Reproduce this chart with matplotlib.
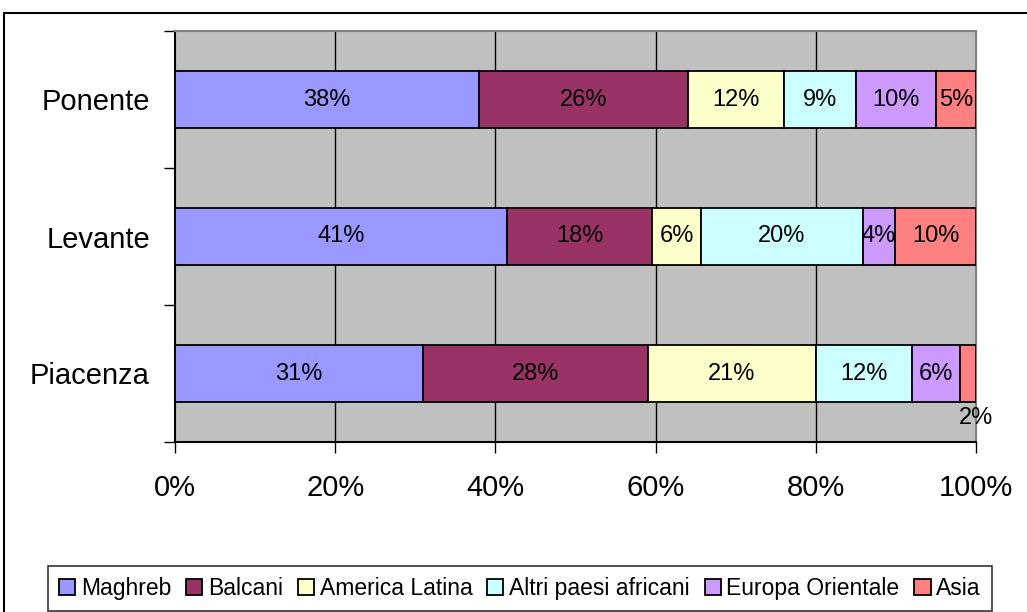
import numpy as np
import matplotlib
matplotlib.use("Agg")
import matplotlib.pyplot as plt
from matplotlib.patches import Rectangle

plt.rcParams['font.family'] = ['Liberation Sans', 'DejaVu Sans']

zone = ['Piacenza', 'Levante', 'Ponente']
gruppi = ['Maghreb', 'Balcani', 'America Latina', 'Altri paesi africani',
          'Europa Orientale', 'Asia']
# percentuali per zona (stesso ordine di zone)
valori = {
    'Maghreb':              [31, 41, 38],
    'Balcani':              [28, 18, 26],
    'America Latina':       [21, 6, 12],
    'Altri paesi africani': [12, 20, 9],
    'Europa Orientale':     [6, 4, 10],
    'Asia':                 [2, 10, 5],
}
colori = ['#9999FF', '#993366', '#FFFFCC', '#CCFFFF', '#CC99FF', '#FF8080']

fig = plt.figure(figsize=(10.27, 6.12), dpi=100)
ax = fig.add_axes([175/1027, 1-442/612, 801/1027, 411/612])

# cornice esterna
fig.patches.append(Rectangle((4/1027, -0.05), 1.1, 1-13/612+0.05,
                             transform=fig.transFigure, fill=False,
                             edgecolor='black', lw=1.5))

ax.set_facecolor('#C0C0C0')
y = np.arange(len(zone))
tot = np.zeros(len(zone))
for g in gruppi:
    tot += np.array(valori[g])

left = np.zeros(len(zone))
for g, c in zip(gruppi, colori):
    v = np.array(valori[g], dtype=float)
    w = v / tot * 100
    ax.barh(y, w, left=left, height=0.41, color=c, edgecolor='black',
            lw=1.3, label=g, zorder=3)
    for i in range(len(zone)):
        if g == 'Asia' and zone[i] == 'Piacenza':
            ax.annotate(f'{int(v[i])}%', (100, y[i] - 0.205), xytext=(0, -12),
                        textcoords='offset points', ha='center', va='center',
                        fontsize=17, zorder=4)
        else:
            ax.text(left[i] + w[i] / 2, y[i], f'{int(v[i])}%', ha='center',
                    va='center', fontsize=17, zorder=4)
    left += w

ax.set_xlim(0, 100)
ax.set_ylim(-0.5, 2.5)
ax.set_xticks(np.arange(0, 101, 20))
ax.set_xticklabels([f'{t}%' for t in range(0, 101, 20)], fontsize=21)
ax.tick_params(axis='x', direction='out', length=8, width=1, pad=15)
ax.set_yticks(y)
ax.set_yticklabels(zone, fontsize=21)
ax.tick_params(axis='y', length=0, pad=18)
ax.set_yticks(np.arange(-0.5, 3, 1), minor=True)
ax.tick_params(axis='y', which='minor', direction='out', length=8, width=1)

for xg in [20, 40, 60, 80]:
    ax.axvline(xg, color='black', lw=1, zorder=1)

ax.spines['left'].set_color('black')
ax.spines['bottom'].set_color('black')
ax.spines['top'].set_color('#808080')
ax.spines['right'].set_color('#808080')
for s in ax.spines.values():
    s.set_linewidth(1.5)

leg = fig.legend(loc='center', bbox_to_anchor=(520/1027, 1-588.5/612),
                 ncol=6, fontsize=16.5, frameon=True, fancybox=False,
                 edgecolor='black', handlelength=0.7, handleheight=0.7,
                 handletextpad=0.25, columnspacing=0.65, borderpad=0.5)
leg.get_frame().set_linewidth(1.2)

fig.savefig('out.png', dpi=100)
